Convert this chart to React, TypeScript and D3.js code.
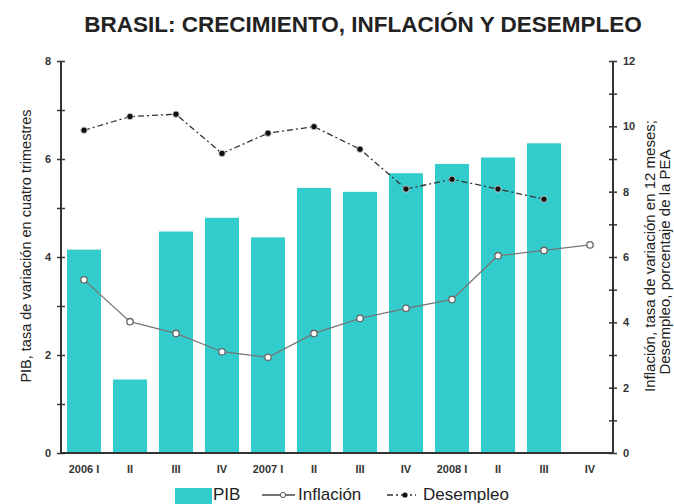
import React, { useEffect, useRef } from "react";
import * as d3 from "d3";

// quarters 2006 I .. 2008 IV
const quarters = ["2006 I", "II", "III", "IV", "2007 I", "II", "III", "IV", "2008 I", "II", "III", "IV"];
const pib = [4.15, 1.5, 4.52, 4.8, 4.4, 5.41, 5.33, 5.71, 5.9, 6.03, 6.32];
const inflacion = [5.3, 4.02, 3.66, 3.1, 2.93, 3.66, 4.12, 4.43, 4.7, 6.04, 6.2, 6.37];
const desempleo = [9.88, 10.3, 10.37, 9.17, 9.79, 9.99, 9.3, 8.08, 8.38, 8.08, 7.77];
const leftTicks = [0, 2, 4, 6, 8];
const rightTicks = [0, 2, 4, 6, 8, 10, 12];

const W = 674;
const H = 504;
const margin = { top: 61, right: 61, bottom: 51, left: 61 };
const font = "'Liberation Sans', Arial, sans-serif";

const App: React.FC = () => {
    const ref = useRef<SVGSVGElement>(null);

    useEffect(() => {
        const svg = d3.select(ref.current);
        svg.selectAll("*").remove();

        const x0 = margin.left;
        const x1 = W - margin.right;
        const y0 = H - margin.bottom;
        const y1 = margin.top;

        const x = d3.scaleBand<number>().domain(d3.range(quarters.length)).range([x0, x1]).paddingInner(0.26).paddingOuter(0.13);
        const xc = (i: number) => x(i)! + x.bandwidth() / 2;
        const yL = d3.scaleLinear().domain([0, 8]).range([y0, y1]);
        const yR = d3.scaleLinear().domain([0, 12]).range([y0, y1]);

        // title
        svg.append("text")
            .attr("x", 363).attr("y", 32)
            .attr("text-anchor", "middle")
            .attr("font-family", font).attr("font-weight", "bold").attr("font-size", 22.5)
            .attr("fill", "#222")
            .text("BRASIL: CRECIMIENTO, INFLACIÓN Y DESEMPLEO");

        // bars
        svg.selectAll(".bar").data(pib).enter().append("rect")
            .attr("x", (d, i) => x(i)!)
            .attr("y", (d) => yL(d))
            .attr("width", x.bandwidth())
            .attr("height", (d) => y0 - yL(d))
            .attr("fill", "#33CCCC");

        // axes
        const axisCol = "#333";
        const leftAxis = svg.append("g").attr("transform", `translate(${x0},0)`)
            .call(d3.axisLeft(yL).tickValues(d3.range(0, 9)).tickSize(4).tickFormat((d) => (leftTicks.includes(+d) ? String(d) : "")));
        const rightAxis = svg.append("g").attr("transform", `translate(${x1},0)`)
            .call(d3.axisRight(yR).tickValues(d3.range(0, 13)).tickSize(4).tickFormat((d) => (rightTicks.includes(+d) ? String(d) : "")));
        [leftAxis, rightAxis].forEach((g) => {
            g.select(".domain").remove();
            g.selectAll(".tick line").attr("stroke", axisCol).attr("stroke-width", 1.5)
                .attr("x1", -4).attr("x2", 4);
            g.selectAll(".tick text").attr("font-family", font).attr("font-size", 11)
                .attr("font-weight", "bold").attr("fill", "#333");
        });
        leftAxis.selectAll(".tick text").attr("x", -10);
        rightAxis.selectAll(".tick text").attr("x", 10);

        svg.append("path")
            .attr("d", `M${x0},${y1}V${y0}H${x1}V${y1}`)
            .attr("fill", "none").attr("stroke", axisCol).attr("stroke-width", 2);

        // x labels
        svg.selectAll(".xl").data(quarters).enter().append("text")
            .attr("x", (d, i) => xc(i))
            .attr("y", 473)
            .attr("text-anchor", "middle")
            .attr("font-family", font).attr("font-size", 11).attr("font-weight", "bold")
            .attr("fill", "#333")
            .text((d) => d);

        // inflation line
        const line = d3.line<number>().x((d, i) => xc(i)).y((d) => yR(d));
        svg.append("path").datum(inflacion)
            .attr("d", line).attr("fill", "none").attr("stroke", "#777").attr("stroke-width", 1.3);
        svg.selectAll(".inf").data(inflacion).enter().append("circle")
            .attr("cx", (d, i) => xc(i)).attr("cy", (d) => yR(d)).attr("r", 3.2)
            .attr("fill", "#fff").attr("stroke", "#666").attr("stroke-width", 1.3);

        // unemployment line
        svg.append("path").datum(desempleo)
            .attr("d", line).attr("fill", "none").attr("stroke", "#333").attr("stroke-width", 1.3)
            .attr("stroke-dasharray", "6 3 2 3");
        svg.selectAll(".des").data(desempleo).enter().append("circle")
            .attr("cx", (d, i) => xc(i)).attr("cy", (d) => yR(d)).attr("r", 3.2)
            .attr("fill", "#111").attr("stroke", "#ddd").attr("stroke-width", 0.8);

        // axis titles
        svg.append("text")
            .attr("transform", "translate(31,246) rotate(-90)")
            .attr("text-anchor", "middle")
            .attr("font-family", font).attr("font-size", 14.5).attr("fill", "#222")
            .text("PIB, tasa de variación en cuatro trimestres");
        svg.append("text")
            .attr("transform", "translate(655,256) rotate(-90)")
            .attr("text-anchor", "middle")
            .attr("font-family", font).attr("font-size", 15).attr("fill", "#222")
            .text("Inflación, tasa de variación en 12 meses;");
        svg.append("text")
            .attr("transform", "translate(670,262) rotate(-90)")
            .attr("text-anchor", "middle")
            .attr("font-family", font).attr("font-size", 15).attr("fill", "#222")
            .text("Desempleo, porcentaje de la PEA");

        // legend
        const lg = svg.append("g").attr("font-family", font).attr("font-size", 17).attr("fill", "#222");
        lg.append("rect").attr("x", 175).attr("y", 488).attr("width", 37).attr("height", 16).attr("fill", "#33CCCC");
        lg.append("text").attr("x", 213).attr("y", 500).text("PIB");
        lg.append("line").attr("x1", 262).attr("x2", 295).attr("y1", 495).attr("y2", 495).attr("stroke", "#444").attr("stroke-width", 1.3);
        lg.append("circle").attr("cx", 283).attr("cy", 495).attr("r", 2.6).attr("fill", "#fff").attr("stroke", "#555");
        lg.append("text").attr("x", 298).attr("y", 500).text("Inflación");
        lg.append("line").attr("x1", 387).attr("x2", 416).attr("y1", 495).attr("y2", 495).attr("stroke", "#333").attr("stroke-width", 1.3).attr("stroke-dasharray", "6 3 2 3");
        lg.append("circle").attr("cx", 405).attr("cy", 495).attr("r", 2.6).attr("fill", "#111");
        lg.append("text").attr("x", 423).attr("y", 500).text("Desempleo");
    }, []);

    return (
        <div style={{ position: "fixed", left: 0, top: 0, width: W, height: H, overflow: "hidden", background: "#fff" }}>
            <svg ref={ref} width={W} height={H} style={{ display: "block" }} />
        </div>
    );
};

export default App;
